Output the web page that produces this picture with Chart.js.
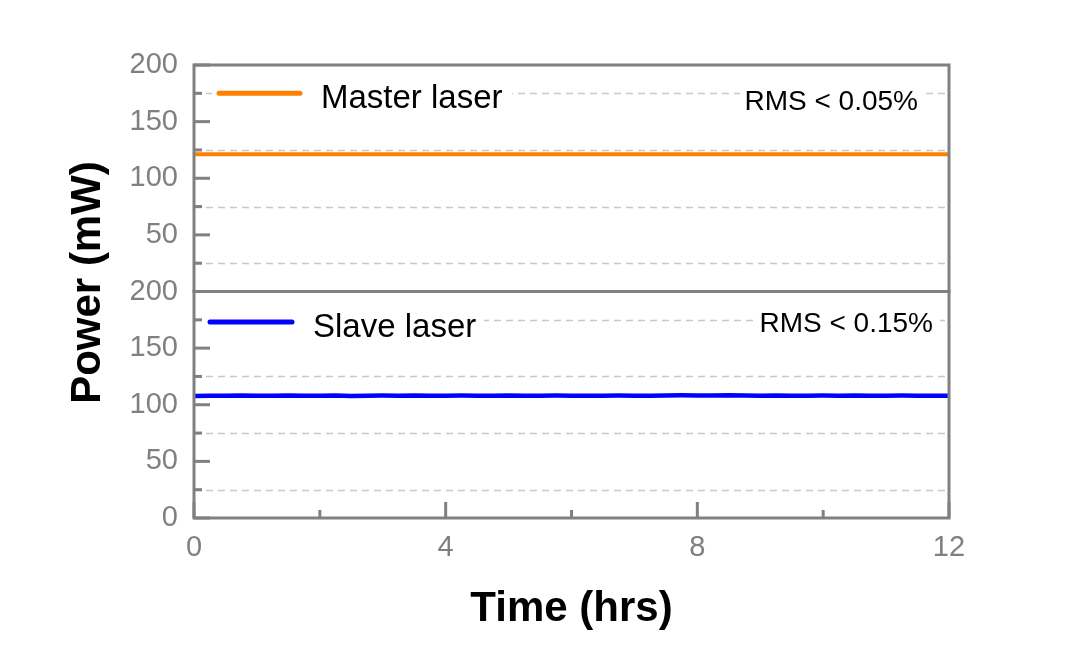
<!DOCTYPE html>
<html>
<head>
<meta charset="utf-8">
<script src="https://cdn.jsdelivr.net/npm/chart.js@4.4.0/dist/chart.umd.min.js"></script>
<style>
  html, body { margin: 0; background: #fff; }
  #wrap { width: 1080px; height: 648px; position: relative; }
</style>
</head>
<body>
<div id="wrap"><canvas id="chart" width="1080" height="648"></canvas></div>
<script>
// time axis (hrs) and recorded power (mW)
const hours = [0, 0.25, 0.5, 0.75, 1, 1.25, 1.5, 1.75, 2, 2.25, 2.5, 2.75, 3, 3.25, 3.5, 3.75,
  4, 4.25, 4.5, 4.75, 5, 5.25, 5.5, 5.75, 6, 6.25, 6.5, 6.75, 7, 7.25, 7.5, 7.75,
  8, 8.25, 8.5, 8.75, 9, 9.25, 9.5, 9.75, 10, 10.25, 10.5, 10.75, 11, 11.25, 11.5, 11.75, 12];
const masterPower = [121.3, 121.3, 121.3, 121.3, 121.3, 121.3, 121.3, 121.3, 121.3, 121.3, 121.3, 121.3,
  121.3, 121.3, 121.3, 121.3, 121.3, 121.3, 121.3, 121.3, 121.3, 121.3, 121.3, 121.3, 121.3,
  121.3, 121.3, 121.3, 121.3, 121.3, 121.3, 121.3, 121.3, 121.3, 121.3, 121.3, 121.3, 121.3,
  121.3, 121.3, 121.3, 121.3, 121.3, 121.3, 121.3, 121.3, 121.3, 121.3, 121.3];
const slavePower = [107.8, 108.0, 107.9, 108.1, 107.9, 108.0, 108.2, 107.9, 108.0, 108.1, 107.8, 108.0,
  108.1, 108.0, 108.2, 107.9, 108.0, 108.1, 107.9, 108.0, 108.2, 108.0, 107.9, 108.1, 108.0,
  107.9, 108.0, 108.1, 107.9, 108.0, 108.1, 108.3, 108.2, 108.1, 108.3, 108.1, 108.0, 108.2,
  108.0, 107.9, 108.1, 108.0, 108.2, 107.9, 108.0, 108.1, 107.9, 108.0, 108.0];

const xMajor = [0, 4, 8, 12];
const xMinor = [2, 6, 10];
const topMajor = [50, 100, 150, 200];
const botMajor = [0, 50, 100, 150, 200];
const yMinor = [25, 75, 125, 175];

const seriesNames = ['Master laser', 'Slave laser'];
const rmsNotes = ['RMS < 0.05%', 'RMS < 0.15%'];

const GRAY = '#808080';
const FONT = "'Liberation Sans', Arial, sans-serif";

function pts(ys){ return hours.map((t, i) => ({ x: t, y: ys[i] })); }

const decor = {
  id: 'decor',
  beforeDatasetsDraw(chart){
    const { ctx, chartArea: a, scales } = chart;
    ctx.save();
    ctx.strokeStyle = '#c8c8c8';
    ctx.lineWidth = 1.5;
    ctx.setLineDash([7, 5]);
    ['yTop', 'yBot'].forEach(id => {
      yMinor.forEach(v => {
        const y = Math.round(scales[id].getPixelForValue(v)) + 0.5;
        ctx.beginPath(); ctx.moveTo(a.left, y); ctx.lineTo(a.right, y); ctx.stroke();
      });
    });
    ctx.restore();

    // legend entries and RMS notes, with white backing over the grid
    const yt = scales.yTop, yb = scales.yBot;
    ctx.save();
    ctx.fillStyle = '#fff';
    ctx.fillRect(212, yt.getPixelForValue(175) - 18, 300, 36);
    ctx.fillRect(204, yb.getPixelForValue(173) - 18, 280, 36);
    ctx.fillRect(740, yt.getPixelForValue(175) - 14, 186, 30);
    ctx.fillRect(754, yb.getPixelForValue(173) - 14, 186, 30);
    ctx.lineCap = 'round';
    ctx.lineWidth = 5;
    ctx.strokeStyle = chart.data.datasets[0].borderColor;
    const ly = yt.getPixelForValue(175);
    ctx.beginPath(); ctx.moveTo(219, ly); ctx.lineTo(300, ly); ctx.stroke();
    ctx.strokeStyle = chart.data.datasets[1].borderColor;
    const ly2 = yb.getPixelForValue(173);
    ctx.beginPath(); ctx.moveTo(210, ly2); ctx.lineTo(292, ly2); ctx.stroke();

    ctx.fillStyle = '#000';
    ctx.textBaseline = 'middle';
    ctx.textAlign = 'left';
    ctx.font = '33px ' + FONT;
    ctx.fillText(seriesNames[0], 321, ly + 6);
    ctx.fillText(seriesNames[1], 313, ly2 + 6);
    ctx.font = '28px ' + FONT;
    ctx.textAlign = 'right';
    ctx.fillText(rmsNotes[0], 918, ly + 9);
    ctx.fillText(rmsNotes[1], 933, ly2 + 2);
    ctx.restore();
  },
  afterDatasetsDraw(chart){
    const { ctx, chartArea: a, scales } = chart;
    const mid = scales.yTop.bottom;
    ctx.save();
    ctx.strokeStyle = GRAY;
    ctx.lineWidth = 3;
    ctx.lineCap = 'square';
    ctx.strokeRect(a.left, a.top, a.right - a.left, a.bottom - a.top);
    ctx.beginPath(); ctx.moveTo(a.left, mid); ctx.lineTo(a.right, mid); ctx.stroke();
    // inward ticks
    const tick = (scale, vals, len) => {
      vals.forEach(v => {
        const p = scale.getPixelForValue(v);
        ctx.beginPath();
        if (scale.isHorizontal()) { ctx.moveTo(p, a.bottom); ctx.lineTo(p, a.bottom - len); }
        else { ctx.moveTo(a.left, p); ctx.lineTo(a.left + len, p); }
        ctx.stroke();
      });
    };
    ctx.lineCap = 'butt';
    tick(scales.x, xMajor, 16);
    tick(scales.x, xMinor, 8);
    tick(scales.yTop, topMajor, 16);
    tick(scales.yTop, yMinor, 8);
    tick(scales.yBot, botMajor, 16);
    tick(scales.yBot, yMinor, 8);
    ctx.restore();

    // y axis title spanning both panels
    ctx.save();
    ctx.translate(88, (a.top + a.bottom) / 2 - 9);
    ctx.rotate(-Math.PI / 2);
    ctx.font = 'bold 42px ' + FONT;
    ctx.fillStyle = '#000';
    ctx.textAlign = 'center';
    ctx.textBaseline = 'middle';
    ctx.fillText('Power (mW)', 0, 0);
    ctx.restore();
  }
};

const tickFont = { family: FONT, size: 29 };
function yAxis(majors, weight){
  return {
    type: 'linear', position: 'left', stack: 'power', stackWeight: 1, weight,
    min: 0, max: 200,
    afterBuildTicks: s => { s.ticks = majors.map(v => ({ value: v })); },
    afterFit: s => { s.width = 194; },
    grid: { display: false, drawTicks: false },
    border: { display: false },
    ticks: { color: GRAY, font: tickFont, padding: 16, autoSkip: false }
  };
}

new Chart(document.getElementById('chart'), {
  type: 'line',
  data: {
    datasets: [
      { label: seriesNames[0], data: pts(masterPower), yAxisID: 'yTop', borderColor: '#ff8000', borderWidth: 4, pointRadius: 0, tension: 0 },
      { label: seriesNames[1], data: pts(slavePower), yAxisID: 'yBot', borderColor: '#0000ff', borderWidth: 4.5, pointRadius: 0, tension: 0 }
    ]
  },
  options: {
    responsive: false,
    animation: false,
    devicePixelRatio: 1,
    layout: { padding: { left: 0, right: 131, top: 65, bottom: 9 } },
    plugins: { legend: { display: false }, tooltip: { enabled: false } },
    scales: {
      x: {
        type: 'linear', min: 0, max: 12,
        afterBuildTicks: s => { s.ticks = xMajor.map(v => ({ value: v })); },
        afterFit: s => { s.height = 121; },
        grid: { display: false, drawTicks: false },
        border: { display: false },
        ticks: { color: GRAY, font: tickFont, padding: 13, maxRotation: 0, autoSkip: false },
        title: { display: true, text: 'Time (hrs)', color: '#000', font: { family: FONT, size: 42, weight: 'bold' } }
      },
      yBot: yAxis(botMajor, 1),
      yTop: yAxis(topMajor, 2)
    }
  },
  plugins: [decor]
});
</script>
</body>
</html>
